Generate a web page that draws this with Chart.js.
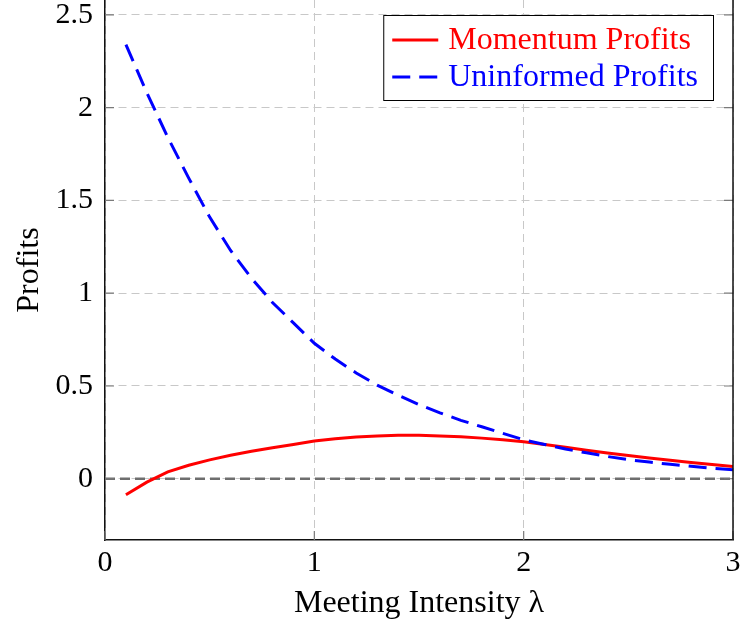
<!DOCTYPE html>
<html>
<head>
<meta charset="utf-8">
<script src="https://cdn.jsdelivr.net/npm/chart.js@4/dist/chart.umd.min.js"></script>
<style>
  html, body { margin: 0; padding: 0; background: #fff; }
  #wrap { width: 740px; height: 625px; }
</style>
</head>
<body>
<div id="wrap"><canvas id="chart" width="740" height="625"></canvas></div>
<script>
// Meeting intensity grid and the two profit curves
const lambdaValues = [0.1, 0.2, 0.3, 0.4, 0.5, 0.6, 0.7, 0.8, 0.9, 1.0,
                      1.1, 1.2, 1.3, 1.4, 1.5, 1.6, 1.7, 1.8, 1.9, 2.0,
                      2.1, 2.2, 2.3, 2.4, 2.5, 2.6, 2.7, 2.8, 2.9, 3.0];
const momentumProfits = [-0.086, -0.018, 0.037, 0.073, 0.102, 0.127, 0.148, 0.167, 0.185, 0.203,
                         0.215, 0.225, 0.231, 0.234, 0.234, 0.231, 0.226, 0.219, 0.210, 0.199,
                         0.185, 0.170, 0.154, 0.139, 0.125, 0.112, 0.100, 0.088, 0.077, 0.066];
const uninformedProfits = [2.34, 2.08, 1.84, 1.62, 1.41, 1.23, 1.08, 0.95, 0.84, 0.73,
                           0.645, 0.57, 0.505, 0.45, 0.40, 0.355, 0.315, 0.28, 0.245, 0.21,
                           0.185, 0.16, 0.14, 0.12, 0.103, 0.09, 0.078, 0.067, 0.057, 0.049];
// Horizontal reference line at zero profit
const zeroLineX = [0, 3];
const zeroLineY = [0, 0];

const seriesLabels = ['Momentum Profits', 'Uninformed Profits'];
const xTickValues = [0, 1, 2, 3];
const yTickValues = [0, 0.5, 1, 1.5, 2, 2.5];
const xAxisTitle = 'Meeting Intensity λ';
const yAxisTitle = 'Profits';

const FONT = '"Liberation Serif", "Times New Roman", serif';

const toPoints = (xs, ys) => xs.map((x, i) => ({ x: x, y: ys[i] }));

// Small inward tick marks on the frame plus the right frame edge
const frameTicks = {
  id: 'frameTicks',
  afterDatasetsDraw(chart) {
    const { ctx, chartArea: a, scales: { x, y } } = chart;
    ctx.save();
    ctx.strokeStyle = '#7a7a7a';
    ctx.lineWidth = 1.2;
    ctx.beginPath();
    y.ticks.forEach(t => {
      const py = y.getPixelForValue(t.value);
      ctx.moveTo(a.left, py); ctx.lineTo(a.left + 9, py);
      ctx.moveTo(a.right, py); ctx.lineTo(a.right - 9, py);
    });
    x.ticks.forEach(t => {
      const px = x.getPixelForValue(t.value);
      ctx.moveTo(px, a.bottom); ctx.lineTo(px, a.bottom - 9);
    });
    ctx.stroke();
    ctx.strokeStyle = '#111';
    ctx.lineWidth = 1.5;
    ctx.beginPath();
    ctx.moveTo(a.right, a.top);
    ctx.lineTo(a.right, a.bottom);
    ctx.stroke();
    ctx.restore();
  }
};

// Boxed legend in the upper right corner, text coloured like each series
const boxedLegend = {
  id: 'boxedLegend',
  afterDraw(chart) {
    const ctx = chart.ctx;
    const items = seriesLabels
      .map(lbl => chart.data.datasets.find(d => d.label === lbl))
      .filter(Boolean);
    ctx.save();
    ctx.font = '32px ' + FONT;
    const textW = Math.max(...items.map(d => ctx.measureText(d.label).width));
    const right = 713, top = 15, height = 85;
    const padL = 9, sample = 46, gap = 10, padR = 15;
    const width = padL + sample + gap + textW + padR;
    const left = right - width;
    ctx.fillStyle = '#fff';
    ctx.fillRect(left, top, width, height);
    ctx.strokeStyle = '#000';
    ctx.lineWidth = 1;
    ctx.strokeRect(left + 0.5, top + 0.5, width, height);
    items.forEach((d, i) => {
      const cy = top + 25 + i * 37;
      ctx.beginPath();
      ctx.setLineDash(d.borderDash || []);
      ctx.strokeStyle = d.borderColor;
      ctx.lineWidth = d.borderWidth;
      ctx.moveTo(left + padL, cy);
      ctx.lineTo(left + padL + sample, cy);
      ctx.stroke();
      ctx.setLineDash([]);
      ctx.fillStyle = d.borderColor;
      ctx.textBaseline = 'alphabetic';
      ctx.textAlign = 'left';
      ctx.fillText(d.label, left + padL + sample + gap, cy + 9);
    });
    ctx.restore();
  }
};

new Chart(document.getElementById('chart'), {
  type: 'line',
  data: {
    datasets: [
      {
        label: seriesLabels[1],
        data: toPoints(lambdaValues, uninformedProfits),
        borderColor: '#0000ff',
        borderWidth: 3,
        borderDash: [18, 9],
        pointRadius: 0,
        tension: 0,
        fill: false,
        order: 0
      },
      {
        label: seriesLabels[0],
        data: toPoints(lambdaValues, momentumProfits),
        borderColor: '#ff0000',
        borderWidth: 3,
        pointRadius: 0,
        tension: 0,
        fill: false,
        order: 1
      },
      {
        data: toPoints(zeroLineX, zeroLineY),
        borderColor: '#6e6e6e',
        borderWidth: 2.6,
        borderDash: [10, 5],
        pointRadius: 0,
        fill: false,
        order: 2
      }
    ]
  },
  options: {
    responsive: false,
    animation: false,
    layout: { padding: { left: 0, top: 0, right: 7, bottom: 0 } },
    plugins: {
      legend: { display: false },
      tooltip: { enabled: false }
    },
    scales: {
      x: {
        type: 'linear',
        min: 0,
        max: 3,
        afterBuildTicks: s => { s.ticks = xTickValues.map(v => ({ value: v })); },
        afterFit: s => { s.height = 85; s.paddingLeft = 0; s.paddingRight = 0; },
        ticks: {
          padding: 5,
          color: '#000',
          font: { family: FONT, size: 30 },
          callback: v => String(v)
        },
        grid: { color: '#c8c8c8', lineWidth: 1, drawTicks: false },
        border: { display: true, color: '#111', width: 1.5, dash: [8, 5] },
        title: {
          display: true,
          text: xAxisTitle,
          color: '#000',
          font: { family: FONT, size: 32 },
          padding: { top: 0, bottom: 2 }
        }
      },
      y: {
        type: 'linear',
        min: -0.33,
        max: 2.58,
        afterBuildTicks: s => { s.ticks = yTickValues.map(v => ({ value: v })); },
        afterFit: s => { s.width = 105; s.paddingTop = 0; s.paddingBottom = 0; },
        ticks: {
          padding: 12,
          color: '#000',
          font: { family: FONT, size: 30 },
          callback: v => String(v)
        },
        grid: { color: '#c8c8c8', lineWidth: 1, drawTicks: false },
        border: { display: true, color: '#111', width: 1.5, dash: [8, 5] },
        title: {
          display: true,
          text: yAxisTitle,
          color: '#000',
          font: { family: FONT, size: 32 },
          padding: { top: 10, bottom: 0 }
        }
      }
    }
  },
  plugins: [frameTicks, boxedLegend]
});
</script>
</body>
</html>
